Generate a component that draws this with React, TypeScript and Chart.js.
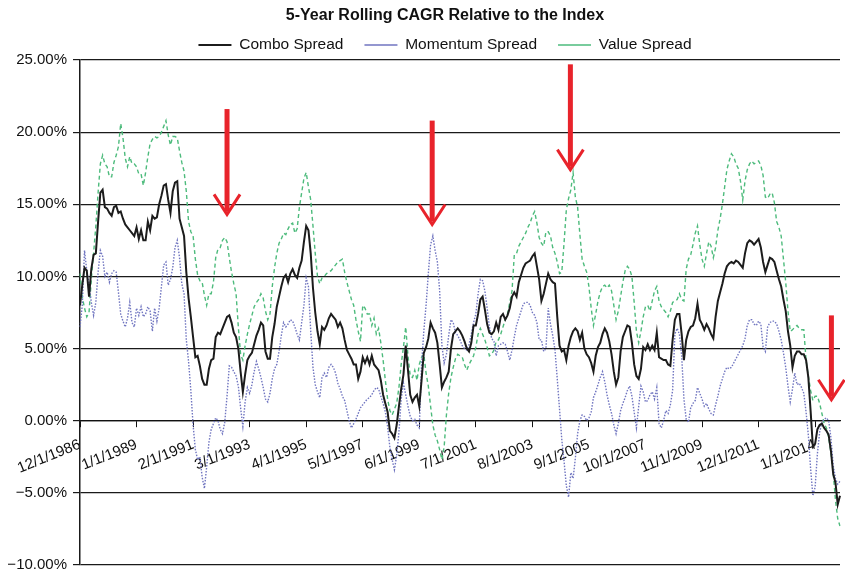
import React, { useEffect, useRef } from 'react';
import { Chart, registerables } from 'chart.js';

Chart.register(...registerables);

// ---- Data (monthly, starting 12/1/1986) ----
const combo: number[] = [
  8.0, 9.4, 10.6, 10.4, 8.6, 10.5, 11.5, 11.6, 13.8, 15.8,
  16.0, 14.8, 14.7, 14.4, 14.2, 14.8, 14.9, 14.4, 14.5, 14.0,
  13.6, 13.4, 13.2, 13.0, 12.8, 13.4, 12.6, 13.2, 12.5, 12.5,
  13.8, 13.2, 14.2, 14.0, 14.1, 15.0, 15.6, 16.3, 16.4, 15.3,
  14.4, 15.9, 16.5, 16.6, 14.0, 13.4, 12.8, 10.3, 8.5, 7.2,
  5.8, 4.4, 4.5, 3.8, 2.9, 2.5, 2.5, 3.6, 4.2, 4.3,
  5.8, 6.1, 6.0, 6.4, 6.8, 7.2, 7.3, 6.8, 6.1, 5.8,
  5.0, 3.4, 2.0, 3.2, 4.2, 4.5, 4.7, 5.3, 5.9, 6.3,
  6.8, 6.6, 4.8, 4.3, 4.3, 5.8, 6.7, 7.9, 8.6, 9.3,
  9.9, 10.1, 9.6, 10.2, 10.5, 10.1, 9.9, 10.6, 11.1, 12.4,
  13.5, 13.2, 11.6, 9.2, 7.5, 6.2, 5.3, 6.5, 6.3, 6.6,
  7.1, 7.4, 7.2, 7.0, 6.5, 6.8, 6.4, 5.6, 4.9, 4.6,
  4.3, 3.9, 3.9, 2.9, 3.4, 4.4, 4.0, 4.4, 3.9, 4.5,
  3.9, 3.7, 3.5, 2.8, 1.8, 1.2, 0.6, -0.7, -0.9, -1.2,
  -0.3, 1.0, 2.2, 3.2, 5.2, 3.5, 1.8, 1.3, 1.6, 1.8,
  1.0, 2.8, 4.7, 5.1, 5.7, 6.8, 6.4, 6.1, 5.4, 3.9,
  2.3, 2.7, 3.0, 3.4, 5.0, 6.0, 6.2, 6.4, 6.2, 5.9,
  5.5, 5.0, 4.8, 5.4, 6.6, 6.6, 7.4, 8.4, 8.6, 7.7,
  6.7, 6.1, 6.0, 6.2, 6.8, 6.3, 7.2, 7.4, 7.0, 7.3,
  7.8, 8.6, 8.9, 8.6, 9.6, 10.1, 10.6, 10.9, 11.0, 11.1,
  11.4, 11.6, 10.7, 9.8, 8.3, 8.8, 9.5, 10.2, 9.8, 9.6,
  9.5, 7.2, 5.2, 4.8, 4.9, 4.2, 5.2, 5.8, 6.2, 6.4,
  6.2, 5.6, 6.1, 5.0, 4.6, 4.4, 4.0, 3.4, 4.5, 5.1,
  5.4, 6.0, 6.4, 6.1, 5.5, 4.6, 3.4, 2.5, 3.0, 4.8,
  5.8, 6.2, 6.6, 6.5, 5.4, 3.9, 3.1, 2.9, 3.6, 5.1,
  4.9, 5.3, 4.9, 5.2, 4.9, 6.1, 4.4, 4.3, 4.2, 4.2,
  3.9, 3.8, 5.6, 7.0, 7.4, 7.4, 6.0, 4.2, 5.6, 6.2,
  6.5, 6.6, 7.1, 8.1, 7.0, 6.7, 6.3, 6.7, 6.4, 6.0,
  5.7, 7.2, 8.3, 8.9, 9.5, 10.2, 10.7, 10.9, 11.0, 10.9,
  11.1, 11.0, 10.8, 10.6, 11.6, 12.3, 12.5, 12.4, 12.2, 12.4,
  12.6, 12.0, 11.0, 10.3, 10.8, 11.3, 11.2, 11.0, 10.4, 9.8,
  9.3, 8.4, 7.6, 6.2, 5.2, 3.7, 4.5, 4.8, 4.8, 4.6,
  4.6, 4.2, 3.0, 0.7, -1.8, -1.6, -0.6, -0.3, -0.2, -0.5,
  -0.7, -1.0, -2.1, -3.7, -4.3, -5.8, -5.2,
];

const momentum: number[] = [
  6.5, 8.0, 11.8, 10.4, 9.5, 8.2, 7.3, 8.2, 10.3, 11.8,
  11.4, 10.0, 10.3, 9.6, 10.2, 10.4, 10.3, 8.9, 7.4, 6.9,
  6.5, 7.1, 8.2, 6.8, 6.5, 7.8, 7.3, 7.9, 7.2, 7.4,
  7.9, 7.6, 6.2, 7.8, 6.9, 7.8, 9.3, 10.8, 11.0, 9.4,
  9.8, 10.6, 12.0, 12.5, 11.3, 9.5, 8.8, 5.6, 4.1, 2.1,
  -0.3, -2.0, -2.7, -2.5, -3.9, -4.7, -3.2, -1.5, -0.6, -0.2,
  0.2, 0.0, -0.6, -0.9, -0.1, 1.7, 3.8, 3.7, 3.4, 3.1,
  2.4, 0.9, -0.4, 1.3, 2.3, 1.9, 2.5, 3.4, 4.1, 3.6,
  3.0, 2.3, 1.5, 1.3, 1.9, 2.9, 3.6, 3.9, 4.8, 5.9,
  6.8, 6.5, 6.7, 7.0, 6.9, 6.5, 6.0, 5.6, 6.8, 8.0,
  9.9, 9.3, 6.2, 3.7, 2.5, 2.0, 1.6, 3.0, 3.3, 3.0,
  3.7, 3.9, 3.7, 3.3, 2.6, 2.2, 1.7, 1.4, 0.7, 0.0,
  -0.5, -0.2, 0.1, 0.5, 0.9, 1.1, 1.3, 1.5, 1.6, 1.8,
  2.1, 2.3, 2.2, 1.7, 1.2, 0.6, -0.4, -1.85, -2.7, -3.4,
  -2.4, -0.8, 1.5, 2.6, 1.8, 1.0, 0.3, 0.0, 0.1, -0.3,
  -0.5, 3.9, 6.2, 8.0, 10.2, 12.2, 12.8, 11.8, 11.0, 9.0,
  5.2, 4.0, 4.6, 5.9, 7.0, 6.8, 6.1, 5.9, 5.6, 5.2,
  5.0, 4.9, 5.3, 6.0, 6.8, 7.4, 8.8, 9.8, 9.7, 9.0,
  7.8, 6.5, 5.7, 5.5, 4.5, 5.2, 5.3, 5.4, 5.3, 4.8,
  4.2, 4.9, 5.8, 6.6, 7.1, 7.6, 8.1, 8.2, 8.2, 8.0,
  7.5, 7.3, 6.8, 5.6, 5.6, 4.8, 5.0, 7.8, 6.7, 5.9,
  4.9, 2.9, 0.8, -1.3, -2.8, -4.5, -5.3, -3.6, -4.0, -2.6,
  -0.9, 0.0, 0.4, 0.3, 0.0, 0.2, 0.6, 1.6, 2.0, 2.5,
  3.0, 3.4, 2.7, 1.8, 1.1, 0.5, -0.3, -0.9, -0.2, 0.7,
  1.2, 1.6, 2.1, 2.4, 1.7, 0.6, -0.5, 1.0, 2.4, 2.0,
  1.3, 1.4, 1.8, 2.0, 1.5, 2.3, -0.2, -0.5, 0.0, 0.7,
  0.5, 1.1, 2.1, 6.0, 6.4, 6.0, 4.5, 1.5, 0.1, -0.1,
  0.9, 1.2, 1.4, 2.3, 1.9, 1.5, 1.0, 1.2, 0.8, 0.5,
  0.4, 1.1, 1.7, 2.4, 2.9, 3.4, 3.7, 3.6, 3.7, 4.0,
  4.3, 4.6, 4.9, 5.2, 5.7, 6.6, 7.0, 7.0, 6.7, 6.6,
  6.9, 6.7, 5.1, 4.8, 6.5, 6.8, 6.9, 6.9, 6.7, 6.2,
  5.6, 4.7, 3.7, 2.4, 1.3, 2.2, 3.3, 2.5, 2.6, 2.3,
  1.9, 0.6, -1.0, -3.3, -5.2, -4.6, -2.3, -0.8, -0.1, 0.1,
  0.2, 0.0, -1.2, -3.1, -4.0, -4.4, -4.2,
];

const value: number[] = [
  10.2, 8.6, 7.8, 7.2, 7.5, 9.8, 11.6, 13.5, 15.8, 17.8,
  18.4, 17.8, 17.6, 16.9, 16.9, 17.9, 18.4, 19.0, 20.6, 19.6,
  18.2, 17.6, 18.3, 17.8, 17.8, 17.6, 17.1, 17.1, 16.3, 17.2,
  18.3, 19.2, 19.5, 19.7, 19.6, 19.7, 20.0, 20.4, 20.8, 19.8,
  19.1, 19.7, 19.7, 19.6, 18.7, 17.9, 17.3, 15.9, 13.8, 13.1,
  12.8, 11.2, 10.1, 9.7, 9.6, 8.7, 8.0, 8.8, 8.8, 9.6,
  11.3, 11.9, 12.0, 12.5, 12.7, 12.4, 11.3, 10.3, 9.5, 8.8,
  6.5, 4.6, 4.2, 5.2, 6.0, 6.7, 7.3, 7.9, 8.2, 8.4,
  8.8, 8.5, 7.6, 7.0, 7.4, 9.3, 10.6, 11.6, 12.3, 12.6,
  13.0, 12.9, 13.3, 13.6, 13.7, 13.0, 13.3, 14.8, 15.8, 16.8,
  17.2, 16.2, 15.3, 13.5, 11.6, 10.0, 9.5, 9.9, 10.0, 10.2,
  10.3, 10.4, 10.6, 10.8, 11.0, 11.1, 11.2, 10.3, 9.6, 9.0,
  8.4, 8.0, 7.0, 6.2, 5.5, 8.0, 7.8, 7.4, 7.4, 6.6,
  7.1, 6.0, 6.4, 5.4, 4.2, 2.8, 1.5, 0.7, 0.4, 0.8,
  1.2, 2.3, 3.9, 5.1, 6.5, 4.5, 3.1, 3.0, 3.5, 2.8,
  3.9, 4.4, 4.6, 3.3, 2.4, 1.0, -0.3, -1.0, -1.4, -2.0,
  -2.7, -1.8, 0.4, 1.9, 3.0, 3.7, 4.3, 4.6, 4.5, 4.4,
  3.9, 3.5, 3.9, 4.2, 4.5, 5.1, 6.0, 6.4, 6.0, 5.6,
  5.1, 4.5, 4.6, 4.9, 5.5, 5.6, 6.0, 6.5, 7.0, 7.4,
  8.2, 9.0, 11.5, 11.6, 12.1, 12.4, 12.7, 13.0, 13.4, 13.7,
  14.2, 14.5, 13.7, 12.7, 12.3, 12.1, 13.1, 13.1, 12.8, 12.0,
  11.6, 11.0, 10.2, 10.3, 12.3, 14.6, 15.4, 16.0, 17.2, 15.5,
  14.8, 12.9, 11.2, 10.7, 10.3, 9.3, 7.8, 6.6, 7.4, 8.3,
  8.9, 9.3, 9.4, 9.2, 9.4, 9.0, 8.0, 7.0, 7.6, 8.6,
  9.6, 10.4, 10.7, 10.5, 10.0, 8.2, 6.2, 5.4, 6.2, 7.2,
  7.9, 8.0, 7.6, 8.3, 9.0, 9.3, 8.3, 7.9, 7.7, 7.5,
  7.2, 7.6, 8.2, 8.3, 8.4, 8.8, 8.4, 8.3, 10.5, 11.2,
  11.5, 12.2, 13.0, 13.5, 12.2, 11.2, 10.7, 11.6, 12.4, 12.1,
  11.3, 12.0, 13.2, 14.0, 15.0, 16.2, 17.4, 18.0, 18.5, 18.3,
  17.8, 17.5, 16.6, 15.3, 16.6, 17.4, 17.8, 18.0, 17.8, 17.9,
  18.0, 17.7, 17.0, 15.5, 15.4, 15.7, 15.8, 15.1, 13.8, 13.4,
  12.8, 11.2, 9.6, 7.6, 6.2, 6.3, 6.5, 6.6, 6.4, 6.3,
  6.3, 4.2, 3.1, 2.1, 1.4, 1.7, 1.7, 1.2, 0.5, -0.2,
  -0.5, -1.2, -2.2, -3.6, -5.5, -6.8, -7.3,
];

// Category labels: one per month from 12/1/1986
const START_YEAR = 1986;
const START_MONTH = 12;
const categories: string[] = [];
for (let i = 0; i < combo.length; i++) {
  const k = START_MONTH - 1 + i;
  categories.push(`${(k % 12) + 1}/1/${START_YEAR + Math.floor(k / 12)}`);
}

// Shown tick labels (every 25 months)
const tickLabels: string[] = [
  '12/1/1986', '1/1/1989', '2/1/1991', '3/1/1993', '4/1/1995', '5/1/1997', '6/1/1999',
  '7/1/2001', '8/1/2003', '9/1/2005', '10/1/2007', '11/1/2009', '12/1/2011', '1/1/2014',
];
const TICK_STEP = 25;

// Red arrow annotations (month index, tip value %, top value %)
const arrowIdx: number[] = [65, 155.7, 216.8, 332.2];
const arrowTip: number[] = [14.3, 13.6, 17.4, 1.45];
const arrowTop: number[] = [21.6, 20.8, 24.7, 7.3];

const FONT = "'Liberation Sans', Arial, Helvetica, sans-serif";

const arrowPlugin = {
  id: 'redArrows',
  afterDatasetsDraw(chart: any) {
    const { ctx, scales } = chart;
    const xs = scales.x;
    const ys = scales.y;
    ctx.save();
    ctx.strokeStyle = '#e8232b';
    ctx.lineCap = 'butt';
    ctx.lineJoin = 'miter';
    for (let i = 0; i < arrowIdx.length; i++) {
      const px = xs.getPixelForValue(arrowIdx[i]);
      const tipY = ys.getPixelForValue(arrowTip[i]);
      const topY = ys.getPixelForValue(arrowTop[i]);
      ctx.lineWidth = 5;
      ctx.beginPath();
      ctx.moveTo(px, topY);
      ctx.lineTo(px, tipY - 3);
      ctx.stroke();
      ctx.lineWidth = 3;
      ctx.beginPath();
      ctx.moveTo(px - 13, tipY - 20);
      ctx.lineTo(px, tipY);
      ctx.lineTo(px + 13, tipY - 20);
      ctx.stroke();
    }
    ctx.restore();
  },
};

// Let the y-axis labels use the full left margin (the layout padding keeps
// the title and legend centred like the original).
const yLabelAreaPlugin = {
  id: 'yLabelArea',
  afterLayout(chart: any) {
    const s = chart.scales.y;
    if (s) s.left = 0;
  },
};

export default function App() {
  const ref = useRef<HTMLCanvasElement | null>(null);

  useEffect(() => {
    if (!ref.current) return;
    Chart.defaults.font.family = FONT;
    const chart = new Chart(ref.current, {
      type: 'line',
      data: {
        labels: categories,
        datasets: [
          {
            label: 'Combo Spread',
            data: combo,
            borderColor: '#1c1c1c',
            backgroundColor: '#1c1c1c',
            borderWidth: 2,
            pointRadius: 0,
            pointStyle: 'line',
            tension: 0,
          },
          {
            label: 'Momentum Spread',
            data: momentum,
            borderColor: '#7075c0',
            backgroundColor: '#7075c0',
            borderWidth: 1.4,
            borderDash: [1.5, 1.5],
            pointRadius: 0,
            pointStyle: 'line',
            tension: 0,
          },
          {
            label: 'Value Spread',
            data: value,
            borderColor: '#4dbb7c',
            backgroundColor: '#4dbb7c',
            borderWidth: 1.4,
            borderDash: [4, 3],
            pointRadius: 0,
            pointStyle: 'line',
            tension: 0,
          },
        ],
      },
      options: {
        responsive: false,
        animation: false,
        layout: { padding: { left: 50, right: 5, top: 0, bottom: 10 } },
        plugins: {
          title: {
            display: true,
            text: '5-Year Rolling CAGR Relative to the Index',
            color: '#111',
            font: { family: FONT, size: 16, weight: 'bold', lineHeight: 1.2 },
            padding: { top: 6.4, bottom: -9.35 },
          },
          legend: {
            display: true,
            position: 'top',
            maxHeight: 43.75,
            labels: {
              usePointStyle: true,
              pointStyle: 'line',
              pointStyleWidth: 33,
              padding: 21,
              color: '#111',
              font: { family: FONT, size: 15.5 },
            },
          },
          tooltip: { enabled: false },
        },
        scales: {
          x: {
            type: 'category',
            position: { y: 0 } as any,
            afterBuildTicks: (scale: any) => {
              scale.ticks = scale.ticks.filter((t: any) => t.value % TICK_STEP === 0);
            },
            grid: {
              display: true,
              drawOnChartArea: false,
              drawTicks: true,
              tickLength: 6,
              color: '#111',
              lineWidth: 1,
            },
            border: { display: true, color: '#111', width: 1.2 },
            ticks: {
              autoSkip: false,
              maxRotation: 22,
              minRotation: 22,
              padding: 9,
              color: '#111',
              font: { family: FONT, size: 15 },
              callback: (v: any) => tickLabels[Math.round(Number(v) / TICK_STEP)] ?? null,
            },
          },
          y: {
            min: -10,
            max: 25,
            afterFit: (scale: any) => {
              scale.width = 30;
              scale.paddingTop = 0;
              scale.paddingBottom = 0;
            },
            grid: {
              display: true,
              color: '#1a1a1a',
              lineWidth: 1.2,
              drawTicks: true,
              tickLength: 7,
            },
            border: { display: true, color: '#1a1a1a', width: 1.5 },
            ticks: {
              stepSize: 5,
              padding: 6,
              color: '#111',
              font: { family: FONT, size: 15 },
              callback: (v: any) => {
                const n = Number(v);
                return (n < 0 ? '\u2212' : '') + Math.abs(n).toFixed(2) + '%';
              },
            },
          },
        },
      },
      plugins: [arrowPlugin, yLabelAreaPlugin],
    });
    return () => chart.destroy();
  }, []);

  return (
    <div style={{ position: 'absolute', left: 0, top: 0, width: 845, height: 575, background: '#fff' }}>
      <canvas ref={ref} width={845} height={575} style={{ display: 'block', width: 845, height: 575 }} />
    </div>
  );
}
